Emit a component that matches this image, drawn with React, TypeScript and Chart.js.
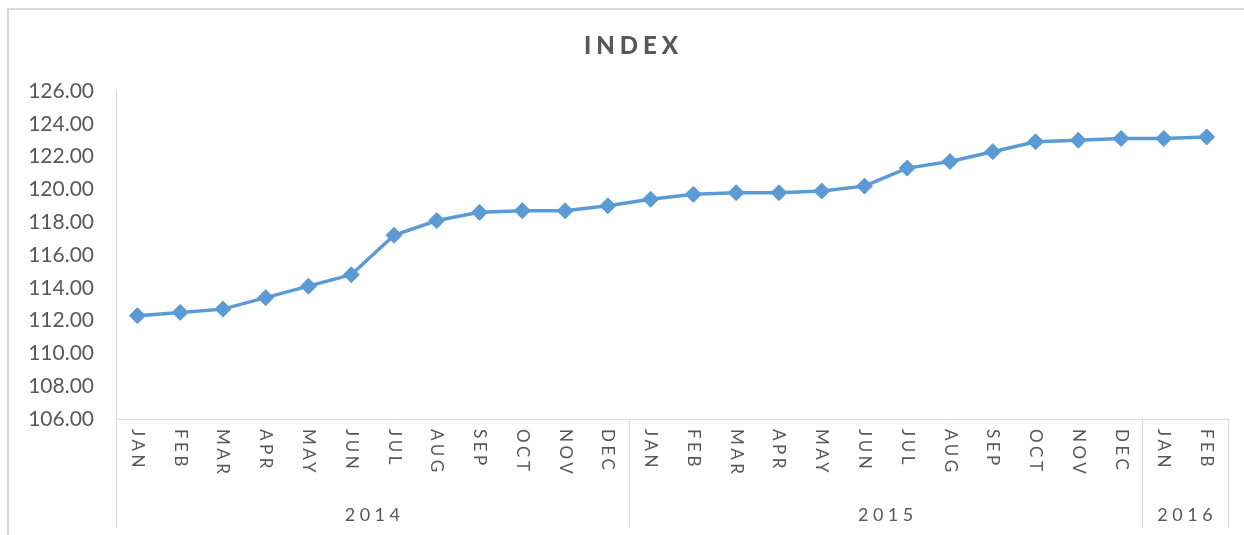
import React, { useEffect, useRef } from "react";
import { Chart, registerables } from "chart.js";

Chart.register(...registerables);

const TITLE = "INDEX";
const YEARS = ["2014", "2015", "2016"];
const MONTHS_2014 = ["JAN", "FEB", "MAR", "APR", "MAY", "JUN", "JUL", "AUG", "SEP", "OCT", "NOV", "DEC"];
const MONTHS_2015 = ["JAN", "FEB", "MAR", "APR", "MAY", "JUN", "JUL", "AUG", "SEP", "OCT", "NOV", "DEC"];
const MONTHS_2016 = ["JAN", "FEB"];
const INDEX_2014 = [112.3, 112.5, 112.7, 113.4, 114.1, 114.8, 117.2, 118.1, 118.6, 118.7, 118.7, 119.0];
const INDEX_2015 = [119.4, 119.7, 119.8, 119.8, 119.9, 120.2, 121.3, 121.7, 122.3, 122.9, 123.0, 123.1];
const INDEX_2016 = [123.1, 123.2];
const Y_MIN = 106;
const Y_MAX = 126;
const Y_STEP = 2;

const MONTH_GROUPS = [MONTHS_2014, MONTHS_2015, MONTHS_2016];
const labels = [...MONTHS_2014, ...MONTHS_2015, ...MONTHS_2016];
const values = [...INDEX_2014, ...INDEX_2015, ...INDEX_2016];

const TEXT = "#595959";
const LINE = "#d9d9d9";
const BLUE = "#5B9BD5";
const FONT = "Lato, 'Open Sans', sans-serif";

const decorPlugin = {
  id: "excelDecor",
  beforeDraw(chart: any) {
    const ctx = chart.ctx;
    ctx.save();
    ctx.fillStyle = "#ffffff";
    ctx.fillRect(0, 0, chart.width, chart.height);
    ctx.strokeStyle = LINE;
    ctx.lineWidth = 2;
    ctx.strokeRect(8, 9, chart.width + 20, chart.height + 20);
    // title
    ctx.fillStyle = TEXT;
    ctx.font = `900 24px ${FONT}`;
    (ctx as any).letterSpacing = "5px";
    ctx.textAlign = "center";
    ctx.textBaseline = "middle";
    ctx.fillText(TITLE, 631 + 2.5, 46);
    ctx.restore();
  },
  afterDraw(chart: any) {
    const ctx = chart.ctx;
    const xs = chart.scales.x;
    const axisY = xs.top;
    const bottomY = 528;
    ctx.save();
    // group separators
    ctx.strokeStyle = LINE;
    ctx.lineWidth = 1;
    const bounds: number[] = [-0.5];
    let acc = -0.5;
    MONTH_GROUPS.forEach((g) => {
      acc += g.length;
      bounds.push(acc);
    });
    bounds.forEach((b) => {
      const px = Math.round(xs.getPixelForValue(b)) + 0.5;
      ctx.beginPath();
      ctx.moveTo(px, axisY);
      ctx.lineTo(px, bottomY);
      ctx.stroke();
    });
    // month labels (rotated clockwise)
    ctx.fillStyle = TEXT;
    ctx.font = `17px ${FONT}`;
    (ctx as any).letterSpacing = "3.5px";
    ctx.textAlign = "left";
    ctx.textBaseline = "middle";
    labels.forEach((lab, i) => {
      const px = xs.getPixelForValue(i);
      ctx.save();
      ctx.translate(px, axisY + 10);
      ctx.rotate(Math.PI / 2);
      ctx.fillText(lab, 0, 0);
      ctx.restore();
    });
    // year labels
    ctx.font = `18px ${FONT}`;
    (ctx as any).letterSpacing = "4.5px";
    ctx.textAlign = "center";
    YEARS.forEach((y, gi) => {
      const cx = (xs.getPixelForValue(bounds[gi]) + xs.getPixelForValue(bounds[gi + 1])) / 2;
      ctx.fillText(y, cx + 2, 515);
    });
    ctx.restore();
  },
};

export default function App() {
  const ref = useRef<HTMLCanvasElement | null>(null);
  useEffect(() => {
    if (!ref.current) return;
    const chart = new Chart(ref.current, {
      type: "line",
      data: {
        labels,
        datasets: [
          {
            label: TITLE,
            data: values,
            borderColor: BLUE,
            backgroundColor: BLUE,
            borderWidth: 3.5,
            pointStyle: "rectRot",
            pointRadius: 8,
            pointBorderWidth: 1,
            pointBackgroundColor: BLUE,
            pointBorderColor: BLUE,
            tension: 0,
          },
        ],
      },
      options: {
        animation: false,
        responsive: false,
        maintainAspectRatio: false,
        layout: { padding: { top: 91, right: 16, bottom: 0, left: 0 } },
        plugins: {
          legend: { display: false },
          title: { display: false },
          tooltip: { enabled: false },
        },
        scales: {
          x: {
            type: "category",
            offset: true,
            grid: { display: false, drawTicks: false },
            border: { display: true, color: LINE, width: 1 },
            ticks: { display: false },
            afterFit: (s: any) => {
              s.height = 116;
            },
          },
          y: {
            min: Y_MIN,
            max: Y_MAX,
            grid: { display: false, drawTicks: false },
            border: { display: true, color: LINE, width: 1 },
            ticks: {
              stepSize: Y_STEP,
              color: TEXT,
              font: { family: FONT, size: 21 },
              padding: 22,
              callback: (v: any) => Number(v).toFixed(2),
            },
            afterFit: (s: any) => {
              s.width = 116;
            },
          },
        },
      },
      plugins: [decorPlugin],
    });
    return () => chart.destroy();
  }, []);
  return (
    <div style={{ position: "fixed", left: 0, top: 0, width: 1244, height: 535, background: "#fff" }}>
      <canvas ref={ref} width={1244} height={535} style={{ display: "block", width: 1244, height: 535 }} />
    </div>
  );
}
